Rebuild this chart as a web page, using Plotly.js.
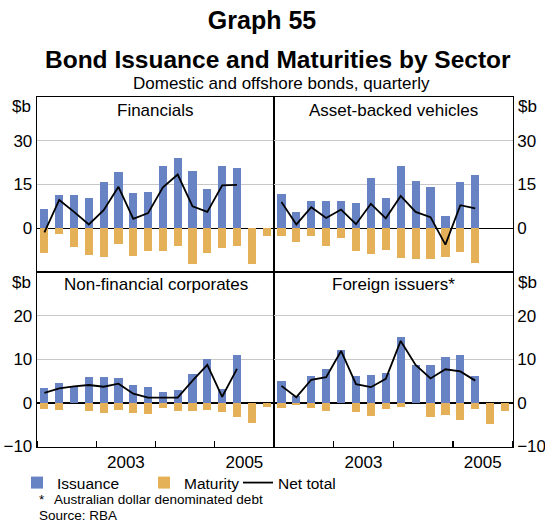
<!DOCTYPE html>
<html>
<head>
<meta charset="utf-8">
<script src="https://cdn.plot.ly/plotly-3.0.1.min.js"></script>
<style>html,body{margin:0;padding:0;background:#fff;}#chart{width:545px;height:523px;}</style>
</head>
<body>
<div id="chart"></div>
<script>
// ---- Data (A$ billion, quarterly, 2002 Q1 - 2005 Q4) ----
var quarters = ['2002 Q1','2002 Q2','2002 Q3','2002 Q4','2003 Q1','2003 Q2','2003 Q3','2003 Q4',
                '2004 Q1','2004 Q2','2004 Q3','2004 Q4','2005 Q1','2005 Q2','2005 Q3','2005 Q4'];

var financialsIssuance = [6.7, 11.5, 11.5, 10.4, 15.7, 19.2, 12.2, 12.5, 21.3, 24.1, 19.6, 13.6, 21.3, 20.6];
var financialsMaturity = [-8.4, -2.1, -6.3, -9.1, -9.8, -5.3, -9.5, -7.7, -7.7, -6.0, -12.3, -8.4, -6.7, -6.0, -12.3, -2.5];
var financialsNet      = [-1.4, 9.7, 5.6, 1.3, 6.2, 14.2, 3.2, 5.2, 14.0, 18.4, 7.5, 5.6, 14.7, 14.9];

var abvIssuance = [11.8, 5.5, 9.4, 9.4, 9.4, 8.7, 17.1, 10.4, 21.3, 16.1, 14.0, 4.1, 15.7, 18.2];
var abvMaturity = [-2.8, -4.6, -2.5, -6.0, -3.5, -7.7, -8.8, -7.4, -10.2, -10.6, -10.6, -9.8, -8.1, -12.0];
var abvNet      = [9.0, 1.3, 7.2, 3.5, 6.4, 1.4, 8.4, 3.4, 11.1, 5.6, 3.8, -5.6, 7.9, 6.8];

var nfcIssuance = [3.4, 4.5, 3.8, 5.9, 5.9, 5.7, 4.1, 3.6, 2.5, 2.9, 6.6, 10.1, 3.2, 11.0];
var nfcMaturity = [-1.4, -1.6, 0, -1.8, -2.3, -1.6, -2.3, -2.5, -1.2, -1.8, -1.8, -1.6, -2.1, -3.2, -4.6, -0.9];
var nfcNet      = [2.3, 3.3, 3.8, 4.1, 3.7, 4.4, 2.1, 1.2, 1.2, 1.2, 5.1, 8.7, 1.4, 7.8];

var foreignIssuance = [5.0, 1.5, 6.2, 7.8, 12.2, 6.2, 6.4, 6.8, 15.2, 8.7, 8.7, 10.5, 11.0, 6.2];
var foreignMaturity = [-1.2, -0.5, -1.2, -1.8, 0, -2.1, -3.0, -1.4, -0.9, 0, -3.2, -2.8, -3.9, -1.4, -4.8, -1.8];
var foreignNet      = [3.9, 1.3, 5.3, 5.9, 11.9, 4.3, 3.6, 5.5, 14.2, 8.7, 5.6, 7.7, 7.2, 5.1];

var panelTitles = ['Financials', 'Asset-backed vehicles', 'Non-financial corporates', 'Foreign issuers*'];
var yearLabels = ['2003', '2005'];
var yearLabelPos = [5.5, 13.5];          // middle of each labelled year (quarter index)
var yearBoundaries = [-0.5, 3.5, 7.5, 11.5, 15.5];
var topTicks = [0, 15, 30];
var bottomTicks = [-10, 0, 10, 20];

// ---- Styling ----
var FONT = 'Liberation Sans, Arial, Helvetica, sans-serif';
var BLUE = '#6783c3';
var ORANGE = '#e5b158';
var W = 545, H = 523;
var xL = [37 / W, 274 / W], xR = [274 / W, 512.5 / W];
var yT = [1 - 272 / H, 1 - 97 / H], yB = [1 - 446.5 / H, 1 - 272 / H];

var xIdx = quarters.map(function (q, i) { return i; });

var panels = [
  {iss: financialsIssuance, mat: financialsMaturity, net: financialsNet, xa: 'x',  ya: 'y'},
  {iss: abvIssuance,        mat: abvMaturity,        net: abvNet,        xa: 'x2', ya: 'y2'},
  {iss: nfcIssuance,        mat: nfcMaturity,        net: nfcNet,        xa: 'x3', ya: 'y3'},
  {iss: foreignIssuance,    mat: foreignMaturity,    net: foreignNet,    xa: 'x4', ya: 'y4'}
];

var traces = [];
panels.forEach(function (p, k) {
  traces.push({type: 'bar', name: 'Issuance', x: xIdx.slice(0, p.iss.length), y: p.iss,
    xaxis: p.xa, yaxis: p.ya, marker: {color: BLUE, line: {width: 0}}, width: 0.55,
    showlegend: k === 0, legend: 'legend', hoverinfo: 'y'});
  traces.push({type: 'bar', name: 'Maturity', x: xIdx.slice(0, p.mat.length), y: p.mat,
    xaxis: p.xa, yaxis: p.ya, marker: {color: ORANGE, line: {width: 0}}, width: 0.55,
    showlegend: k === 0, legend: 'legend2', hoverinfo: 'y'});
  traces.push({type: 'scatter', mode: 'lines', name: 'Net total', x: xIdx.slice(0, p.net.length), y: p.net,
    xaxis: p.xa, yaxis: p.ya, line: {color: '#000', width: 1.8},
    showlegend: k === 0, legend: 'legend3', hoverinfo: 'y'});
});

function xaxis(domain, anchor, showLabels) {
  return {
    domain: domain, anchor: anchor, range: [-0.5, 15.5], fixedrange: true,
    showgrid: false, zeroline: false, showline: true, mirror: true, linecolor: '#000', linewidth: 1.3,
    tickmode: 'array', tickvals: showLabels ? yearLabelPos : [], ticktext: showLabels ? yearLabels : [],
    ticks: '', showticklabels: showLabels,
    tickfont: {family: FONT, size: 17, color: '#000'},
    minor: showLabels ? {tickmode: 'array', tickvals: yearBoundaries, ticks: 'inside', ticklen: 6,
      tickcolor: '#000', tickwidth: 1.3, showgrid: false} : undefined
  };
}
function yaxis(domain, anchor, range, ticks, side) {
  return {
    domain: domain, anchor: anchor, range: range, side: side, fixedrange: true,
    tickmode: 'array', tickvals: ticks, ticks: '',
    showgrid: true, gridcolor: '#c8c8c8', gridwidth: 1,
    zeroline: true, zerolinecolor: '#000', zerolinewidth: 1.3,
    showline: true, mirror: true, linecolor: '#000', linewidth: 1.3,
    tickfont: {family: FONT, size: 17, color: '#000'}
  };
}

var annotations = [];
var refs = [['x', 'y'], ['x2', 'y2'], ['x3', 'y3'], ['x4', 'y4']];
panelTitles.forEach(function (t, k) {
  annotations.push({text: t, xref: refs[k][0] + ' domain', yref: refs[k][1] + ' domain',
    x: 0.5, y: 1 - 13 / 175, xanchor: 'center', yanchor: 'middle', showarrow: false,
    font: {family: FONT, size: 17, color: '#000'}});
});
// "$b" unit labels on both sides of each row
[[yT, 107], [yB, 282.5]].forEach(function (row) {
  annotations.push({text: '$b', xref: 'paper', yref: 'paper', x: 33 / W, y: 1 - row[1] / H,
    xanchor: 'right', yanchor: 'middle', showarrow: false, font: {family: FONT, size: 17, color: '#000'}});
  annotations.push({text: '$b', xref: 'paper', yref: 'paper', x: 516 / W, y: 1 - row[1] / H,
    xanchor: 'left', yanchor: 'middle', showarrow: false, font: {family: FONT, size: 17, color: '#000'}});
});
annotations.push({text: '<b>Bond Issuance and Maturities by Sector</b>', xref: 'paper', yref: 'paper',
  x: 278 / W, y: 1 - 60 / H, xanchor: 'center', yanchor: 'middle', showarrow: false,
  font: {family: FONT, size: 24.5, color: '#000'}});
annotations.push({text: 'Domestic and offshore bonds, quarterly', xref: 'paper', yref: 'paper',
  x: 281 / W, y: 1 - 83 / H, xanchor: 'center', yanchor: 'middle', showarrow: false,
  font: {family: FONT, size: 17, color: '#000'}});
annotations.push({text: '*', xref: 'paper', yref: 'paper', x: 37 / W, y: 1 - 499 / H,
  xanchor: 'left', yanchor: 'middle', showarrow: false, font: {family: FONT, size: 13.5, color: '#000'}});
annotations.push({text: 'Australian dollar denominated debt', xref: 'paper', yref: 'paper', x: 52 / W, y: 1 - 499 / H,
  xanchor: 'left', yanchor: 'middle', showarrow: false, font: {family: FONT, size: 13.5, color: '#000'}});
annotations.push({text: 'Source: RBA', xref: 'paper', yref: 'paper', x: 37 / W, y: 1 - 515.5 / H,
  xanchor: 'left', yanchor: 'middle', showarrow: false, font: {family: FONT, size: 13.5, color: '#000'}});

function legendAt(px) {
  return {orientation: 'h', x: px / W, y: 1 - 483 / H, xanchor: 'left', yanchor: 'middle',
    bgcolor: 'rgba(0,0,0,0)', borderwidth: 0, font: {family: FONT, size: 15.5, color: '#000'},
    itemclick: false, itemdoubleclick: false};
}

var layout = {
  width: W, height: H, margin: {l: 0, r: 0, t: 0, b: 0},
  paper_bgcolor: '#fff', plot_bgcolor: '#fff',
  font: {family: FONT, color: '#000'},
  barmode: 'relative', bargap: 0,
  title: {text: '<b>Graph 55</b>', x: 262 / W, xanchor: 'center', xref: 'paper',
    y: 1 - 20 / H, yanchor: 'middle', yref: 'paper', font: {family: FONT, size: 25, color: '#000'}},
  xaxis: xaxis(xL, 'y', false), xaxis2: xaxis(xR, 'y2', false),
  xaxis3: xaxis(xL, 'y3', true), xaxis4: xaxis(xR, 'y4', true),
  yaxis: yaxis(yT, 'x', [-15, 45], topTicks, 'left'),
  yaxis2: yaxis(yT, 'x2', [-15, 45], topTicks, 'right'),
  yaxis3: yaxis(yB, 'x3', [-10, 30], bottomTicks, 'left'),
  yaxis4: yaxis(yB, 'x4', [-10, 30], bottomTicks, 'right'),
  legend: legendAt(17), legend2: legendAt(144), legend3: legendAt(238),
  annotations: annotations
};

Plotly.newPlot('chart', traces, layout, {displayModeBar: false, staticPlot: true});
</script>
</body>
</html>
